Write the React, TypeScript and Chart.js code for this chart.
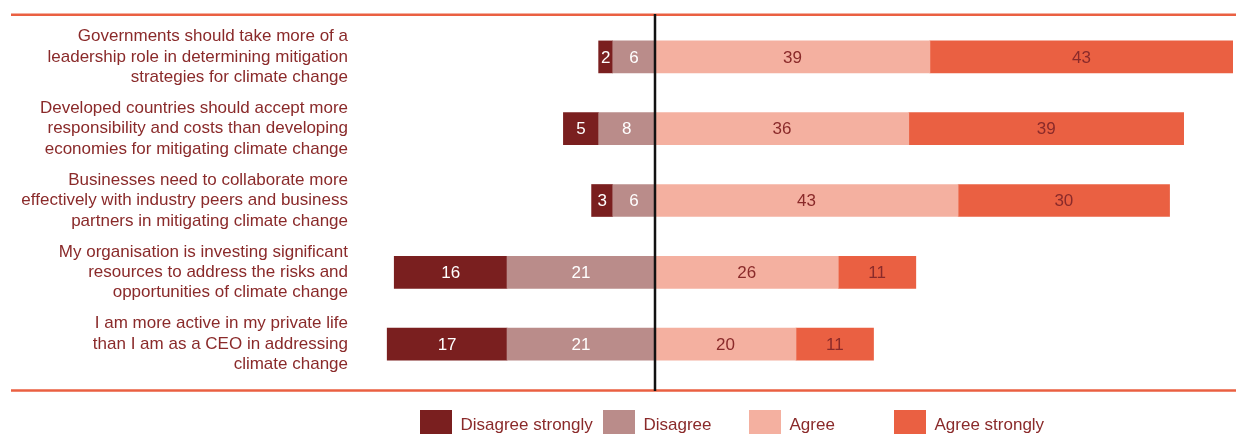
import React, { useEffect, useRef } from "react";
import { Chart, registerables } from "chart.js";

Chart.register(...registerables);

const categories: string[][] = [
  ["Governments should take more of a", "leadership role in determining mitigation", "strategies for climate change"],
  ["Developed countries should accept more", "responsibility and costs than developing", "economies for mitigating climate change"],
  ["Businesses need to collaborate more", "effectively with industry peers and business", "partners in mitigating climate change"],
  ["My organisation is investing significant", "resources to address the risks and", "opportunities of climate change"],
  ["I am more active in my private life", "than I am as a CEO in addressing", "climate change"],
];

const disagreeStrongly = [2, 5, 3, 16, 17];
const disagree = [6, 8, 6, 21, 21];
const agree = [39, 36, 43, 26, 20];
const agreeStrongly = [43, 39, 30, 11, 11];

const seriesLabels = ["Disagree strongly", "Disagree", "Agree", "Agree strongly"];

const C_DS = "#7A1F1F";
const C_D = "#BA8C8A";
const C_A = "#F4B0A0";
const C_AS = "#EA6042";
const TEXT = "#8A2A2A";
const FONT = "'Liberation Sans', Arial, sans-serif";

export default function App() {
  const ref = useRef<HTMLCanvasElement | null>(null);

  useEffect(() => {
    if (!ref.current) return;

    const frame = {
      id: "frame",
      beforeDatasetsDraw(chart: any) {
        const ctx = chart.ctx;
        ctx.save();
        ctx.strokeStyle = C_AS;
        ctx.lineWidth = 2.5;
        ctx.beginPath();
        ctx.moveTo(11, 14.75);
        ctx.lineTo(chart.width, 14.75);
        ctx.moveTo(11, 390.5);
        ctx.lineTo(chart.width, 390.5);
        ctx.stroke();
        ctx.restore();
      },
      afterDatasetsDraw(chart: any) {
        const ctx = chart.ctx;
        ctx.save();
        ctx.font = `17px ${FONT}`;
        ctx.textAlign = "center";
        ctx.textBaseline = "middle";
        chart.data.datasets.forEach((ds: any, i: number) => {
          const meta = chart.getDatasetMeta(i);
          meta.data.forEach((el: any, j: number) => {
            const v = Math.abs(ds.data[j]);
            const p = el.getCenterPoint();
            ctx.fillStyle = ds.labelColor;
            ctx.fillText(String(v), p.x, p.y + 1);
          });
        });
        const x0 = Math.round(chart.scales.x.getPixelForValue(0));
        ctx.strokeStyle = "#111111";
        ctx.lineWidth = 2.5;
        ctx.beginPath();
        ctx.moveTo(x0, 14);
        ctx.lineTo(x0, 391);
        ctx.stroke();
        ctx.restore();
      },
      afterDraw(chart: any) {
        const ctx = chart.ctx;
        const order = [1, 0, 2, 3];
        const xs = [420, 603, 749, 894];
        ctx.save();
        ctx.font = `17px ${FONT}`;
        ctx.textAlign = "left";
        ctx.textBaseline = "middle";
        order.forEach((di, k) => {
          const ds = chart.data.datasets[di];
          ctx.fillStyle = ds.backgroundColor;
          ctx.fillRect(xs[k], 410, 32, 26);
          ctx.fillStyle = TEXT;
          ctx.fillText(ds.label, xs[k] + 40.5, 425);
        });
        ctx.restore();
      },
    };

    const chart = new Chart(ref.current, {
      type: "bar",
      data: {
        labels: categories,
        datasets: [
          { label: seriesLabels[1], data: disagree.map((v) => -v), backgroundColor: C_D, labelColor: "#ffffff" } as any,
          { label: seriesLabels[0], data: disagreeStrongly.map((v) => -v), backgroundColor: C_DS, labelColor: "#ffffff" } as any,
          { label: seriesLabels[2], data: agree, backgroundColor: C_A, labelColor: TEXT } as any,
          { label: seriesLabels[3], data: agreeStrongly, backgroundColor: C_AS, labelColor: TEXT } as any,
        ],
      },
      options: {
        indexAxis: "y",
        responsive: false,
        animation: false,
        events: [],
        layout: { padding: { top: 21, bottom: 54, left: 0, right: 3 } },
        datasets: { bar: { barThickness: 32, borderWidth: 0 } },
        plugins: { legend: { display: false }, tooltip: { enabled: false } },
        scales: {
          x: {
            stacked: true,
            min: -42,
            max: 82,
            display: false,
            grid: { display: false },
          },
          y: {
            stacked: true,
            border: { display: false },
            grid: { display: false, drawTicks: false },
            afterFit(scale: any) {
              scale.width = 359;
              scale.paddingTop = 0;
              scale.paddingBottom = 0;
            },
            ticks: {
              padding: 11,
              color: TEXT,
              font: { family: FONT, size: 17, lineHeight: 1.2 },
            },
          },
        },
      },
      plugins: [frame],
    } as any);

    return () => chart.destroy();
  }, []);

  return (
    <div style={{ position: "fixed", left: 0, top: 0, width: 1236, height: 434, background: "#fff" }}>
      <canvas ref={ref} width={1236} height={434} style={{ display: "block" }} />
    </div>
  );
}
